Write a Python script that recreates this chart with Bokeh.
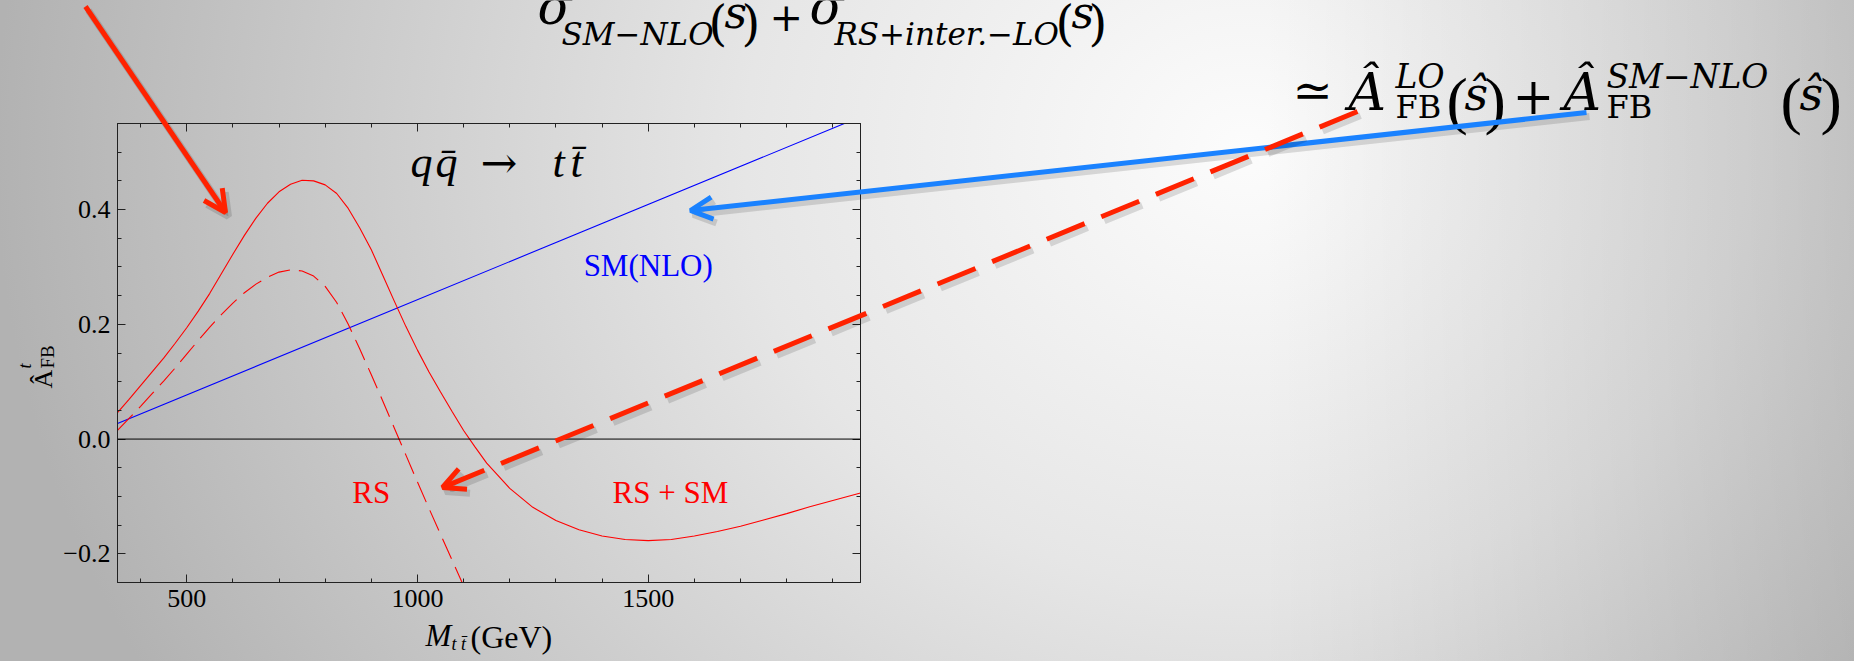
from bokeh.plotting import figure
from bokeh.layouts import column
from bokeh.models import (Range1d, FixedTicker, LinearAxis, Label, Arrow, OpenHead,
                          Span, CustomJSTickFormatter)
from bokeh.embed import file_html
from bokeh.resources import INLINE

# ---------------- data ----------------
mass_rs_sm = [350, 375, 400, 425, 450, 475, 500, 525, 550, 575, 600, 625, 650, 675, 700,
              725, 750, 775, 800, 825, 850, 875, 900, 925, 950, 975, 1000, 1025, 1050,
              1075, 1100, 1125, 1150, 1200, 1250, 1300, 1350, 1400, 1450, 1500, 1550,
              1600, 1650, 1700, 1750, 1800, 1850, 1900, 1960]
afb_rs_sm = [0.046, 0.069, 0.093, 0.117, 0.141, 0.167, 0.194, 0.223, 0.254, 0.288, 0.322,
             0.355, 0.385, 0.411, 0.431, 0.444, 0.451, 0.450, 0.443, 0.428, 0.402, 0.368,
             0.330, 0.285, 0.240, 0.196, 0.155, 0.117, 0.082, 0.048, 0.015, -0.014,
             -0.042, -0.086, -0.119, -0.142, -0.158, -0.169, -0.175, -0.177, -0.175,
             -0.169, -0.161, -0.152, -0.141, -0.130, -0.118, -0.107, -0.094]

mass_rs = [350, 375, 400, 425, 450, 475, 500, 525, 550, 575, 600, 625, 650, 675, 700,
           725, 750, 775, 800, 825, 850, 875, 900, 925, 950, 975, 1000, 1025, 1050,
           1075, 1100]
afb_rs = [0.015, 0.036, 0.057, 0.079, 0.101, 0.124, 0.148, 0.172, 0.195, 0.217, 0.237,
          0.255, 0.270, 0.282, 0.291, 0.295, 0.293, 0.284, 0.266, 0.238, 0.200, 0.157,
          0.112, 0.066, 0.019, -0.028, -0.075, -0.121, -0.166, -0.211, -0.256]

mass_sm = [350, 955, 1925]
afb_sm = [0.027, 0.228, 0.55]

x_major = [500, 1000, 1500]
x_minor = [400, 600, 700, 800, 900, 1100, 1200, 1300, 1400, 1600, 1700, 1800, 1900]
y_major = [-0.2, 0.0, 0.2, 0.4]
y_minor = [-0.25, -0.15, -0.1, -0.05, 0.05, 0.1, 0.15, 0.25, 0.3, 0.35, 0.45, 0.5, 0.55]

label_rs = "RS"
label_rs_sm = "RS + SM"
label_sm = "SM(NLO)"

# ---------------- layout ----------------
W, H = 1854, 661
FL, FT, FW, FH = 117, 123, 743, 459
XMIN, XMAX = 350, 1960
YMIN, YMAX = -0.25, 0.55
SERIF = "Liberation Serif"
MATH = "DejaVu Serif"

p = figure(width=W, height=H, title=None,
           x_range=Range1d(XMIN, XMAX), y_range=Range1d(YMIN, YMAX),
           output_backend="svg", toolbar_location=None,
           min_border_left=FL, min_border_top=FT,
           min_border_right=W - FL - FW, min_border_bottom=H - FT - FH)
p.frame_align = False

p.border_fill_color = None
p.background_fill_color = None
p.styles = {"background":
            "linear-gradient(to right, rgba(0,0,0,0) 68%, rgba(0,0,0,0.13) 100%), "
            "radial-gradient(1250px 1100px at 1245px 150px, #fcfcfc 0%, #e6e6e6 40%, "
            "#c8c8c8 75%, #b2b2b2 100%)"}
p.outline_line_color = "#222222"
p.xgrid.visible = False
p.ygrid.visible = False


def style_axis(ax, labels=True):
    ax.major_tick_in = 8
    ax.major_tick_out = 0
    ax.minor_tick_in = 4
    ax.minor_tick_out = 0
    ax.axis_line_color = "#222222"
    ax.major_tick_line_color = "#222222"
    ax.minor_tick_line_color = "#222222"
    ax.major_label_text_font = SERIF
    ax.major_label_text_font_size = "26px"
    ax.major_label_text_color = "black"
    ax.axis_label = None
    if not labels:
        ax.formatter = CustomJSTickFormatter(code="return '';")
        ax.major_label_standoff = 0


p.xaxis.ticker = FixedTicker(ticks=x_major, minor_ticks=x_minor)
p.yaxis.ticker = FixedTicker(ticks=y_major, minor_ticks=y_minor)
p.yaxis.formatter = CustomJSTickFormatter(
    code="return (tick < -1e-9 ? '\u2212' : '') + Math.abs(tick).toFixed(1);")
style_axis(p.xaxis[0])
style_axis(p.yaxis[0])
p.xaxis.major_label_standoff = 7
p.yaxis.major_label_standoff = 7

top_ax = LinearAxis(ticker=FixedTicker(ticks=x_major, minor_ticks=x_minor))
style_axis(top_ax, labels=False)
p.add_layout(top_ax, "above")
right_ax = LinearAxis(ticker=FixedTicker(ticks=y_major, minor_ticks=y_minor))
style_axis(right_ax, labels=False)
p.add_layout(right_ax, "right")

p.add_layout(Span(location=0, dimension="width", line_color="black", line_width=1))

# ---------------- curves ----------------
p.line(mass_sm, afb_sm, line_color="#0000ff", line_width=1.1)
p.line(mass_rs, afb_rs, line_color="#ff0000", line_width=1.1, line_dash="22 9")
p.line(mass_rs_sm, afb_rs_sm, line_color="#ff0000", line_width=1.1)

for lx, ly, lt, lc in [(900, -0.093, label_rs, "#ff0000"),
                       (1548, -0.093, label_rs_sm, "#ff0000"),
                       (1500, 0.302, label_sm, "#0000ff")]:
    p.add_layout(Label(x=lx, y=ly, text=lt, text_font=SERIF, text_font_size="31px",
                       text_color=lc, text_align="center", text_baseline="alphabetic"))

# ---------------- transparent overlay for page-level annotations ----------------
ov = figure(width=W, height=H, title=None, x_range=Range1d(0, W), y_range=Range1d(H, 0),
            output_backend="svg", toolbar_location=None, x_axis_type=None,
            y_axis_type=None, min_border=0)
ov.frame_align = False
ov.border_fill_color = None
ov.background_fill_color = None
ov.outline_line_color = None
ov.grid.visible = False
ov.styles = {"margin-top": f"-{H}px"}


def txt(x, y, s, size, italic=False, color="black", font=MATH, angle=0.0):
    ov.add_layout(Label(x=x, y=y, text=s,
                        text_font=font, text_font_size=f"{size}px",
                        text_font_style="italic" if italic else "normal",
                        text_color=color, text_align="left", text_baseline="alphabetic",
                        angle=angle))


def arrow(x0, y0, x1, y1, color, dash="solid"):
    ov.add_layout(Arrow(x_start=x0 + 3, y_start=y0 + 4, x_end=x1 + 3, y_end=y1 + 4,
                        line_color="black", line_alpha=0.13, line_width=7, line_dash=dash,
                        end=OpenHead(size=22, line_color="black", line_alpha=0.13, line_width=7)))
    ov.add_layout(Arrow(x_start=x0, y_start=y0, x_end=x1, y_end=y1,
                        line_color=color, line_width=5, line_dash=dash,
                        end=OpenHead(size=22, line_color=color, line_width=5)))


# axis titles (Times-like, as in the plot)
txt(43, 388, "Â", 26, font=SERIF, angle=1.5708)
txt(47, 368, "FB", 19, font=SERIF, angle=1.5708)
txt(24, 368, "t", 18, italic=True, font=SERIF, angle=1.5708)

txt(425, 635, "M", 31, italic=True, font=SERIF)
txt(451, 643, "t t\u0304", 18, italic=True, font=SERIF)
txt(470, 636, "(GeV)", 32, font=SERIF)

# process label inside the frame
txt(410, 162, "q", 44, italic=True, font=SERIF)
txt(435, 162, "q\u0304", 44, italic=True, font=SERIF)
txt(480, 162, "\u2192", 44)
txt(552, 162, "t", 44, italic=True, font=SERIF)
txt(570, 162, "t\u0304", 44, italic=True, font=SERIF)

# top formula (cut at the top of the page, as in the original slide)
txt(537, 6, "σ", 50, italic=True)
txt(561, 33, "SM−NLO", 31, italic=True)
txt(708, 22, "(", 48)
txt(724, 12, "ŝ", 44, italic=True)
txt(741, 22, ")", 48)
txt(769, 16, "+", 40)
txt(809, 6, "σ", 50, italic=True)
txt(834, 33, "RS+inter.−LO", 31, italic=True)
txt(1055, 22, "(", 48)
txt(1071, 12, "ŝ", 44, italic=True)
txt(1088, 22, ")", 48)

# right formula
txt(1292, 89, "\u2243", 48)
txt(1348, 91, "Â", 52, italic=True)
txt(1395, 76, "LO", 33, italic=True)
txt(1395, 106, "FB", 32)
txt(1446, 100, "(", 64, font=SERIF)
txt(1464, 93, "ŝ", 46, italic=True)
txt(1484, 100, ")", 64, font=SERIF)
txt(1512, 95, "+", 50)
txt(1563, 91, "Â", 52, italic=True)
txt(1606, 76, "SM−NLO", 33, italic=True)
txt(1606, 106, "FB", 32)
txt(1780, 100, "(", 64, font=SERIF)
txt(1799, 93, "ŝ", 46, italic=True)
txt(1820, 100, ")", 64, font=SERIF)

# annotation arrows
arrow(85, 6, 225, 212, "#ff2200")
arrow(1586, 112, 690, 210, "#1a82ff")
arrow(1357, 111, 442, 487, "#ff2200", dash="41 18")

layout = column(p, ov, spacing=0)
open("out.html", "w").write(file_html(layout, INLINE))
